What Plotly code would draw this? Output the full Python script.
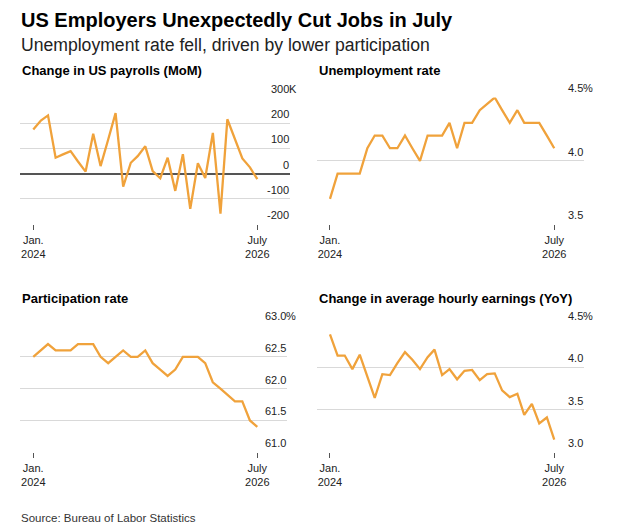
import pandas as pd
import plotly.graph_objects as go

# The page body has an 8px default margin, so layout positions are shifted by that offset
OFF = 8
FW, FH = 624, 527

months = pd.date_range("2024-01-01", periods=31, freq="MS")

payrolls = [174, 210, 230, 63, 76, 89, 48, 8, 158, 30, 135, 239, -51, 43, 69, 108,
            10, -18, 63, -68, 77, -139, 41, -17, 161, -158, 215, 139, 60, 25, -22]
unemployment = [3.7, 3.9, 3.9, 3.9, 3.9, 4.1, 4.2, 4.2, 4.1, 4.1, 4.2, 4.1, 4.0, 4.2, 4.2, 4.2,
                4.3, 4.1, 4.3, 4.3, 4.4, 4.45, 4.5, 4.4, 4.3, 4.4, 4.3, 4.3, 4.3, 4.2, 4.1]
participation = [62.5, 62.6, 62.7, 62.6, 62.6, 62.6, 62.7, 62.7, 62.7, 62.5, 62.4, 62.5, 62.6,
                 62.5, 62.5, 62.6, 62.4, 62.3, 62.2, 62.3, 62.5, 62.5, 62.5, 62.4, 62.1, 62.0,
                 61.9, 61.8, 61.8, 61.5, 61.4]
earnings = [4.39, 4.14, 4.14, 3.98, 4.15, 3.89, 3.64, 3.92, 3.91, 4.05, 4.18, 4.09, 3.98, 4.12,
            4.21, 3.91, 3.98, 3.86, 3.96, 3.97, 3.85, 3.92, 3.93, 3.73, 3.65, 3.69, 3.44, 3.57,
            3.34, 3.41, 3.15]

payroll_ticks = [300, 200, 100, 0, -100, -200]
payroll_labels = ["300", "200", "100", "0", "-100", "-200"]
unemp_ticks = [4.5, 4.0, 3.5]
unemp_labels = ["4.5", "4.0", "3.5"]
part_ticks = [63.0, 62.5, 62.0, 61.5, 61.0]
part_labels = ["63.0", "62.5", "62.0", "61.5", "61.0"]
earn_ticks = [4.5, 4.0, 3.5, 3.0]
earn_labels = ["4.5", "4.0", "3.5", "3.0"]

x_tickvals = ["2024-01-01", "2026-07-01"]
x_ticktext = ["Jan.<br>2024", "July<br>2026"]

LINE = "#F0A23B"
GRID = "#d9d9d9"
FONT = "Liberation Sans, Arial, sans-serif"


def px_x(p):
    return (p - OFF) / FW


def px_y(p):
    return 1 - (p - OFF) / FH


def xd(a, b):
    return [px_x(a), px_x(b)]


def yd(top, bottom):
    return [px_y(bottom), px_y(top)]


panels = [
    (payrolls, payroll_ticks, payroll_labels, "K", "Change in US payrolls (MoM)",
     (20, 290), (97.7, 224.3), ["2023-11-08", "2026-11-11"], [-200, 300], True),
    (unemployment, unemp_ticks, unemp_labels, "%", "Unemployment rate",
     (316.7, 584), (97.5, 224.3), ["2023-11-08", "2026-10-30"], [3.5, 4.5], False),
    (participation, part_ticks, part_labels, "%", "Participation rate",
     (20, 287), (325, 452.3), ["2023-11-08", "2026-10-30"], [61.0, 63.0], False),
    (earnings, earn_ticks, earn_labels, "%", "Change in average hourly earnings (YoY)",
     (316.7, 584), (325, 452.3), ["2023-11-08", "2026-10-30"], [3.0, 4.5], False),
]

fig = go.Figure()
annotations = []
layout = {}

for k, (ser, ticks, labels, suffix, title, xdp, ydp, xr, yr, zl) in enumerate(panels, start=1):
    xa = "x" if k == 1 else f"x{k}"
    ya = "y" if k == 1 else f"y{k}"
    fig.add_trace(go.Scatter(x=months, y=ser, mode="lines", xaxis=xa, yaxis=ya,
                             line=dict(color=LINE, width=2.3), hoverinfo="skip",
                             showlegend=False))
    layout["xaxis" if k == 1 else f"xaxis{k}"] = dict(
        domain=xd(*xdp), anchor=ya, type="date", range=xr,
        tickvals=x_tickvals, ticktext=x_ticktext, ticks="outside", ticklen=5,
        tickwidth=1, tickcolor="#555", showgrid=False, showline=False, zeroline=False,
        tickfont=dict(family=FONT, size=11, color="#222"), fixedrange=True)
    layout["yaxis" if k == 1 else f"yaxis{k}"] = dict(
        domain=yd(*ydp), anchor=xa, range=yr, tickvals=ticks, showticklabels=False,
        showgrid=True, gridcolor=GRID, gridwidth=1, zeroline=zl,
        zerolinecolor="#555", zerolinewidth=1.5, showline=False, ticks="", fixedrange=True)
    for t, lab in zip(ticks, labels):
        annotations.append(dict(
            xref=f"{xa} domain", yref=ya, x=1, y=t, xanchor="right", yanchor="bottom",
            yshift=1, xshift=1, text=lab, showarrow=False,
            font=dict(family=FONT, size=11, color="#222")))
    annotations.append(dict(
        xref=f"{xa} domain", yref=ya, x=1, y=ticks[0], xanchor="left", yanchor="bottom",
        yshift=1, xshift=-3, text=suffix, showarrow=False,
        font=dict(family=FONT, size=11, color="#222")))
    annotations.append(dict(
        xref="paper", yref="paper", x=px_x(xdp[0]), y=px_y(ydp[0] - 27),
        xanchor="left", yanchor="middle", text=f"<b>{title}</b>", showarrow=False,
        font=dict(family=FONT, size=13, color="#000")))

annotations += [
    dict(xref="paper", yref="paper", x=px_x(19), y=px_y(20), xanchor="left", yanchor="middle",
         text="<b>US Employers Unexpectedly Cut Jobs in July</b>", showarrow=False,
         font=dict(family=FONT, size=20, color="#000")),
    dict(xref="paper", yref="paper", x=px_x(19), y=px_y(45), xanchor="left", yanchor="middle",
         text="Unemployment rate fell, driven by lower participation", showarrow=False,
         font=dict(family=FONT, size=17.6, color="#222")),
    dict(xref="paper", yref="paper", x=px_x(19), y=px_y(518), xanchor="left", yanchor="middle",
         text="Source: Bureau of Labor Statistics", showarrow=False,
         font=dict(family=FONT, size=11.5, color="#333")),
]

fig.update_layout(
    width=FW, height=FH, margin=dict(l=0, r=0, t=0, b=0),
    paper_bgcolor="white", plot_bgcolor="white",
    annotations=annotations, **layout)

fig.write_html("out.html", config={"displayModeBar": False})
